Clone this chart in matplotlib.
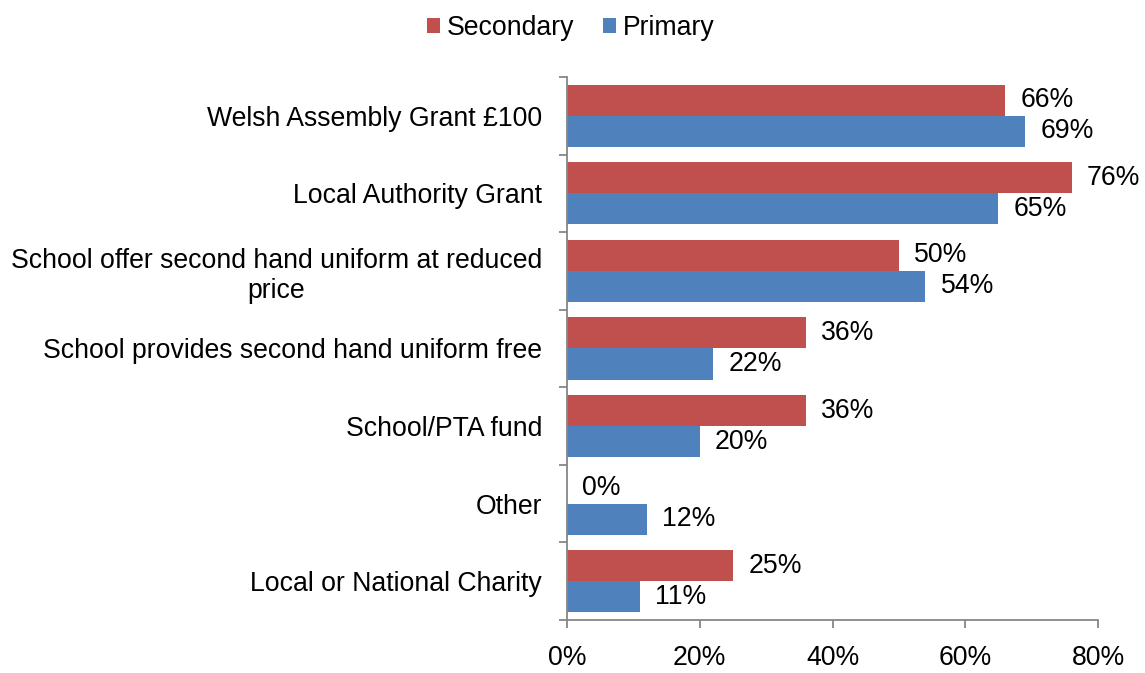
import numpy as np
import matplotlib.pyplot as plt
from matplotlib.ticker import FixedLocator, PercentFormatter

plt.rcParams['font.family'] = ['Liberation Sans', 'DejaVu Sans']

categories = [
    "Welsh Assembly Grant £100",
    "Local Authority Grant",
    "School offer second hand uniform at reduced\nprice",
    "School provides second hand uniform free",
    "School/PTA fund",
    "Other",
    "Local or National Charity",
]
secondary = [66, 76, 50, 36, 36, 0, 25]
primary = [69, 65, 54, 22, 20, 12, 11]

red = "#C0504D"
blue = "#4F81BD"
axis_grey = "#868686"
fs = 19.2

fig = plt.figure(figsize=(11.45, 6.73), dpi=100)
ax = fig.add_axes([0.4952, 0.0788, 0.4638, 0.8068])

y = np.arange(len(categories))
h = 0.4
b_sec = ax.barh(y - h / 2, secondary, height=h, color=red, label="Secondary")
b_pri = ax.barh(y + h / 2, primary, height=h, color=blue, label="Primary")

for bars, vals in ((b_sec, secondary), (b_pri, primary)):
    for bar, v in zip(bars, vals):
        ax.annotate(f"{v}%", (bar.get_width(), bar.get_y() + bar.get_height() / 2),
                    xytext=(11, 0), textcoords="offset points",
                    ha="left", va="center", fontsize=fs)

ax.set_xlim(0, 80)
ax.set_ylim(len(categories) - 0.5, -0.5)
ax.set_xticks([0, 20, 40, 60, 80])
ax.xaxis.set_major_formatter(PercentFormatter(decimals=0))
ax.set_yticks(y)
ax.set_yticklabels(categories, multialignment="center")
ax.yaxis.set_minor_locator(FixedLocator(np.arange(-0.5, len(categories), 1.0)))

ax.tick_params(axis="x", which="major", length=6, width=1.3, color=axis_grey,
               direction="out", labelsize=fs, pad=12)
ax.tick_params(axis="y", which="major", length=0, labelsize=fs, pad=18)
ax.tick_params(axis="y", which="minor", length=6, width=1.3, color=axis_grey,
               direction="out")

for side in ("top", "right"):
    ax.spines[side].set_visible(False)
for side in ("left", "bottom"):
    ax.spines[side].set_color(axis_grey)
    ax.spines[side].set_linewidth(1.3)

fig.legend(handles=[b_sec, b_pri], loc="upper center", bbox_to_anchor=(0.4985, 1.013),
           ncol=2, frameon=False, fontsize=fs, handlelength=0.5, handleheight=0.5,
           handletextpad=0.25, columnspacing=1.05)

fig.savefig("out.png", dpi=100)
